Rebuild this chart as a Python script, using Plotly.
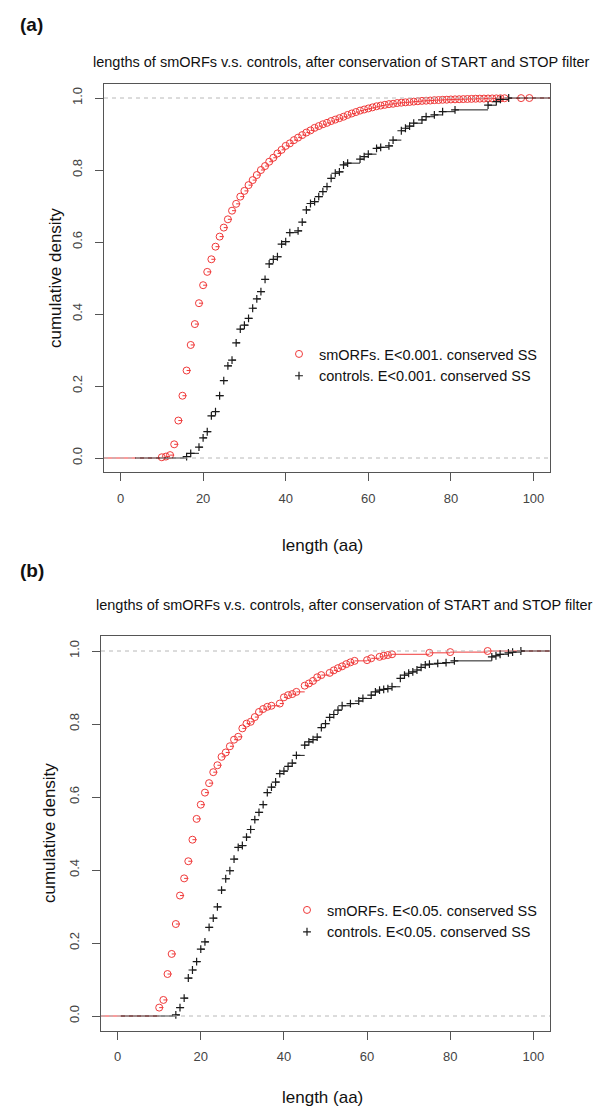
import plotly.graph_objects as go

# ---------------- data ----------------
# Panel (a): E<0.001
A_SMORF_LEN = list(range(10, 94)) + [97, 99]
A_SMORF_CDF = [0.002, 0.004, 0.008, 0.038, 0.104, 0.173, 0.243, 0.314, 0.372, 0.430,
               0.480, 0.517, 0.552, 0.587, 0.615, 0.640, 0.663, 0.687, 0.706, 0.726,
               0.742, 0.758, 0.772, 0.786, 0.800, 0.811, 0.823, 0.834, 0.846, 0.856,
               0.867, 0.874, 0.883, 0.890, 0.897, 0.904, 0.910, 0.917, 0.922, 0.927,
               0.931, 0.936, 0.940, 0.944, 0.948, 0.953, 0.957, 0.961, 0.965, 0.968,
               0.971, 0.974, 0.977, 0.979, 0.981, 0.983, 0.984, 0.986, 0.987, 0.988,
               0.989, 0.990, 0.991, 0.992, 0.9925, 0.993, 0.994, 0.9943, 0.995, 0.9953,
               0.996, 0.9963, 0.9966, 0.997, 0.9973, 0.9976, 0.998, 0.9982, 0.9984, 0.9986,
               0.9988, 0.999, 0.9992, 0.9994, 0.9997, 1.0]
A_CTRL_LEN = [16, 17, 19, 20, 21, 22, 23, 24, 25, 26, 27, 28, 29, 30, 31, 32, 33, 34, 35,
              36, 37, 38, 39, 40, 41, 43, 44, 45, 46, 47, 48, 49, 50, 51, 52, 53, 54, 55,
              58, 59, 60, 62, 63, 65, 66, 68, 69, 70, 71, 73, 74, 76, 78, 81, 89, 91, 92, 94]
A_CTRL_CDF = [0.004, 0.013, 0.030, 0.056, 0.073, 0.117, 0.129, 0.173, 0.215, 0.256,
              0.272, 0.320, 0.358, 0.369, 0.388, 0.416, 0.442, 0.462, 0.496, 0.539,
              0.552, 0.559, 0.594, 0.601, 0.626, 0.631, 0.655, 0.689, 0.707, 0.712,
              0.726, 0.740, 0.754, 0.777, 0.791, 0.795, 0.814, 0.819, 0.830, 0.837,
              0.844, 0.860, 0.863, 0.867, 0.883, 0.909, 0.916, 0.922, 0.930, 0.939,
              0.948, 0.953, 0.962, 0.967, 0.980, 0.990, 0.996, 1.0]

# Panel (b): E<0.05
B_SMORF_LEN = [10, 11, 12, 13, 14, 15, 16, 17, 18, 19, 20, 21, 22, 23, 24, 25, 26, 27, 28,
               29, 30, 31, 32, 33, 34, 35, 36, 37, 39, 40, 41, 42, 43, 45, 46, 47, 48, 49,
               51, 52, 53, 54, 55, 56, 57, 60, 61, 63, 64, 65, 66, 75, 80, 89]
B_SMORF_CDF = [0.023, 0.044, 0.115, 0.170, 0.252, 0.330, 0.377, 0.424, 0.483, 0.540,
               0.579, 0.612, 0.638, 0.668, 0.687, 0.710, 0.722, 0.739, 0.757, 0.765,
               0.788, 0.801, 0.806, 0.819, 0.833, 0.841, 0.847, 0.850, 0.856, 0.873,
               0.879, 0.882, 0.888, 0.905, 0.911, 0.918, 0.928, 0.934, 0.940, 0.947,
               0.953, 0.958, 0.964, 0.969, 0.973, 0.975, 0.980, 0.984, 0.987, 0.989,
               0.991, 0.995, 0.997, 1.0]
B_CTRL_LEN = [14, 15, 16, 17, 18, 19, 20, 21, 22, 23, 24, 25, 26, 27, 28, 29, 30, 31, 32,
              33, 34, 35, 36, 37, 38, 39, 40, 41, 42, 43, 45, 46, 47, 48, 49, 50, 51, 52,
              53, 54, 56, 58, 59, 61, 62, 63, 64, 65, 66, 68, 69, 70, 71, 72, 73, 74, 75,
              77, 79, 81, 90, 91, 92, 94, 95, 97]
B_CTRL_CDF = [0.003, 0.023, 0.049, 0.104, 0.126, 0.149, 0.183, 0.203, 0.243, 0.268,
              0.299, 0.345, 0.376, 0.398, 0.430, 0.462, 0.467, 0.490, 0.511, 0.538,
              0.558, 0.579, 0.612, 0.627, 0.641, 0.664, 0.671, 0.684, 0.693, 0.714,
              0.742, 0.751, 0.757, 0.764, 0.790, 0.801, 0.818, 0.826, 0.838, 0.850,
              0.856, 0.863, 0.870, 0.879, 0.888, 0.893, 0.895, 0.897, 0.902, 0.925,
              0.934, 0.939, 0.943, 0.948, 0.955, 0.962, 0.964, 0.966, 0.968, 0.973,
              0.984, 0.987, 0.991, 0.995, 0.997, 1.0]

X_TICKS = [0, 20, 40, 60, 80, 100]
Y_TICKS = [0.0, 0.2, 0.4, 0.6, 0.8, 1.0]
Y_TICK_TEXT = ["0.0", "0.2", "0.4", "0.6", "0.8", "1.0"]

TITLE = "lengths of smORFs v.s. controls, after conservation of START and STOP filter"
LEG_A = ["smORFs. E<0.001. conserved SS", "controls. E<0.001. conserved SS"]
LEG_B = ["smORFs. E<0.05. conserved SS", "controls. E<0.05. conserved SS"]

# ---------------- styling ----------------
W, H = 600, 1112
FONT = "Liberation Sans, Arial, Helvetica, sans-serif"
RED = "#f03a3a"
BLACK = "#1a1a1a"
XLIM = [0, 100]
XR = [XLIM[0] - 0.04 * (XLIM[1] - XLIM[0]), XLIM[1] + 0.04 * (XLIM[1] - XLIM[0])]
YR = [-0.04, 1.04]


def step_segments(xs, ys, first=False):
    """Horizontal ECDF segments (R plot.stepfun, verticals=FALSE)."""
    if first:
        dr = 0.08 * (XLIM[1] - XLIM[0])
        lo, hi = XLIM[0] - dr, XLIM[1] + dr
    else:
        dr = 0.08 * (max(xs) - min(xs))
        lo, hi = min(xs) - 2 * dr, max(xs) + 2 * dr
    sx, sy = [lo, xs[0], None], [0, 0, None]
    for i in range(len(xs) - 1):
        sx += [xs[i], xs[i + 1], None]
        sy += [ys[i], ys[i], None]
    sx += [xs[-1], hi]
    sy += [ys[-1], ys[-1]]
    return sx, sy


def px2paper_x(p):
    return p / W


def px2paper_y(p):
    return 1 - p / H


fig = go.Figure()

panels = [
    ("x", "y", "legend", A_SMORF_LEN, A_SMORF_CDF, A_CTRL_LEN, A_CTRL_CDF, LEG_A),
    ("x2", "y2", "legend2", B_SMORF_LEN, B_SMORF_CDF, B_CTRL_LEN, B_CTRL_CDF, LEG_B),
]
for xa, ya, lg, sl, sc, cl, cc, leg in panels:
    rx, ry = step_segments(sl, sc, first=True)
    fig.add_trace(go.Scatter(x=rx, y=ry, mode="lines", xaxis=xa, yaxis=ya,
                             line=dict(color=RED, width=1), showlegend=False,
                             hoverinfo="skip"))
    fig.add_trace(go.Scatter(x=sl, y=sc, mode="markers", xaxis=xa, yaxis=ya,
                             name=leg[0], legend=lg,
                             marker=dict(symbol="circle-open", size=7, color=RED,
                                         line=dict(width=1, color=RED))))
    bx, by = step_segments(cl, cc, first=False)
    fig.add_trace(go.Scatter(x=bx, y=by, mode="lines", xaxis=xa, yaxis=ya,
                             line=dict(color=BLACK, width=1), showlegend=False,
                             hoverinfo="skip"))
    fig.add_trace(go.Scatter(x=cl, y=cc, mode="markers", xaxis=xa, yaxis=ya,
                             name=leg[1], legend=lg,
                             marker=dict(symbol="cross-thin", size=5.6, color=BLACK,
                                         line=dict(width=1.2, color=BLACK))))
    for yv in (0, 1):
        fig.add_shape(type="line", xref=f"{xa} domain", yref=ya, x0=0, x1=1, y0=yv, y1=yv,
                      line=dict(color="#b8b8b8", width=1, dash="4px,4px"), layer="above")

axis_common = dict(showline=True, linecolor="#555555", linewidth=1, mirror=True,
                   ticks="outside", ticklen=8, tickcolor="#555555", tickwidth=1,
                   showgrid=False, zeroline=False,
                   tickfont=dict(family=FONT, size=13, color="#444444"))

fig.update_layout(
    width=W, height=H, autosize=False,
    margin=dict(l=0, r=0, t=0, b=0),
    paper_bgcolor="white", plot_bgcolor="white",
    font=dict(family=FONT, color="#111111"),
    xaxis=dict(domain=[px2paper_x(104), px2paper_x(550)], range=XR, tickvals=X_TICKS,
               anchor="y", ticklabelstandoff=6, **axis_common),
    yaxis=dict(domain=[px2paper_y(472.4), px2paper_y(83.6)], range=YR, tickvals=Y_TICKS,
               ticktext=Y_TICK_TEXT, tickangle=-90, anchor="x", ticklabelstandoff=8,
               **axis_common),
    xaxis2=dict(domain=[px2paper_x(101), px2paper_x(550)], range=XR, tickvals=X_TICKS,
                anchor="y2", ticklabelstandoff=6, **axis_common),
    yaxis2=dict(domain=[px2paper_y(1030.6), px2paper_y(636.4)], range=YR, tickvals=Y_TICKS,
                ticktext=Y_TICK_TEXT, tickangle=-90, anchor="x2", ticklabelstandoff=8,
                **axis_common),
    legend=dict(x=px2paper_x(279), y=px2paper_y(338), xanchor="left", yanchor="top",
                bgcolor="rgba(0,0,0,0)", borderwidth=0, tracegroupgap=0,
                font=dict(family=FONT, size=14.5, color="#111111")),
    legend2=dict(x=px2paper_x(287), y=px2paper_y(894), xanchor="left", yanchor="top",
                 bgcolor="rgba(0,0,0,0)", borderwidth=0, tracegroupgap=0,
                 font=dict(family=FONT, size=14.5, color="#111111")),
)

ann = []
def add_text(text, xpx, ypx, size, bold=False, angle=0, xanchor="center"):
    ann.append(dict(text=f"<b>{text}</b>" if bold else text, xref="paper", yref="paper",
                    x=px2paper_x(xpx), y=px2paper_y(ypx), xanchor=xanchor, yanchor="middle",
                    showarrow=False, textangle=angle,
                    font=dict(family=FONT, size=size, color="#111111")))

add_text("(a)", 18, 25, 19, bold=True, xanchor="left")
add_text(TITLE, 341, 62, 14.5)
add_text("cumulative density", 55, 278, 17, angle=-90)
add_text("length (aa)", 322, 545, 17)
add_text("(b)", 18, 570, 19, bold=True, xanchor="left")
add_text(TITLE, 344, 605, 14.5)
add_text("cumulative density", 49, 833, 17, angle=-90)
add_text("length (aa)", 322, 1097, 17)
fig.update_layout(annotations=ann)

fig.write_html(
    "out.html",
    config={"displayModeBar": False},
    post_script="document.body.style.margin='0';document.body.style.overflow='hidden';",
)
